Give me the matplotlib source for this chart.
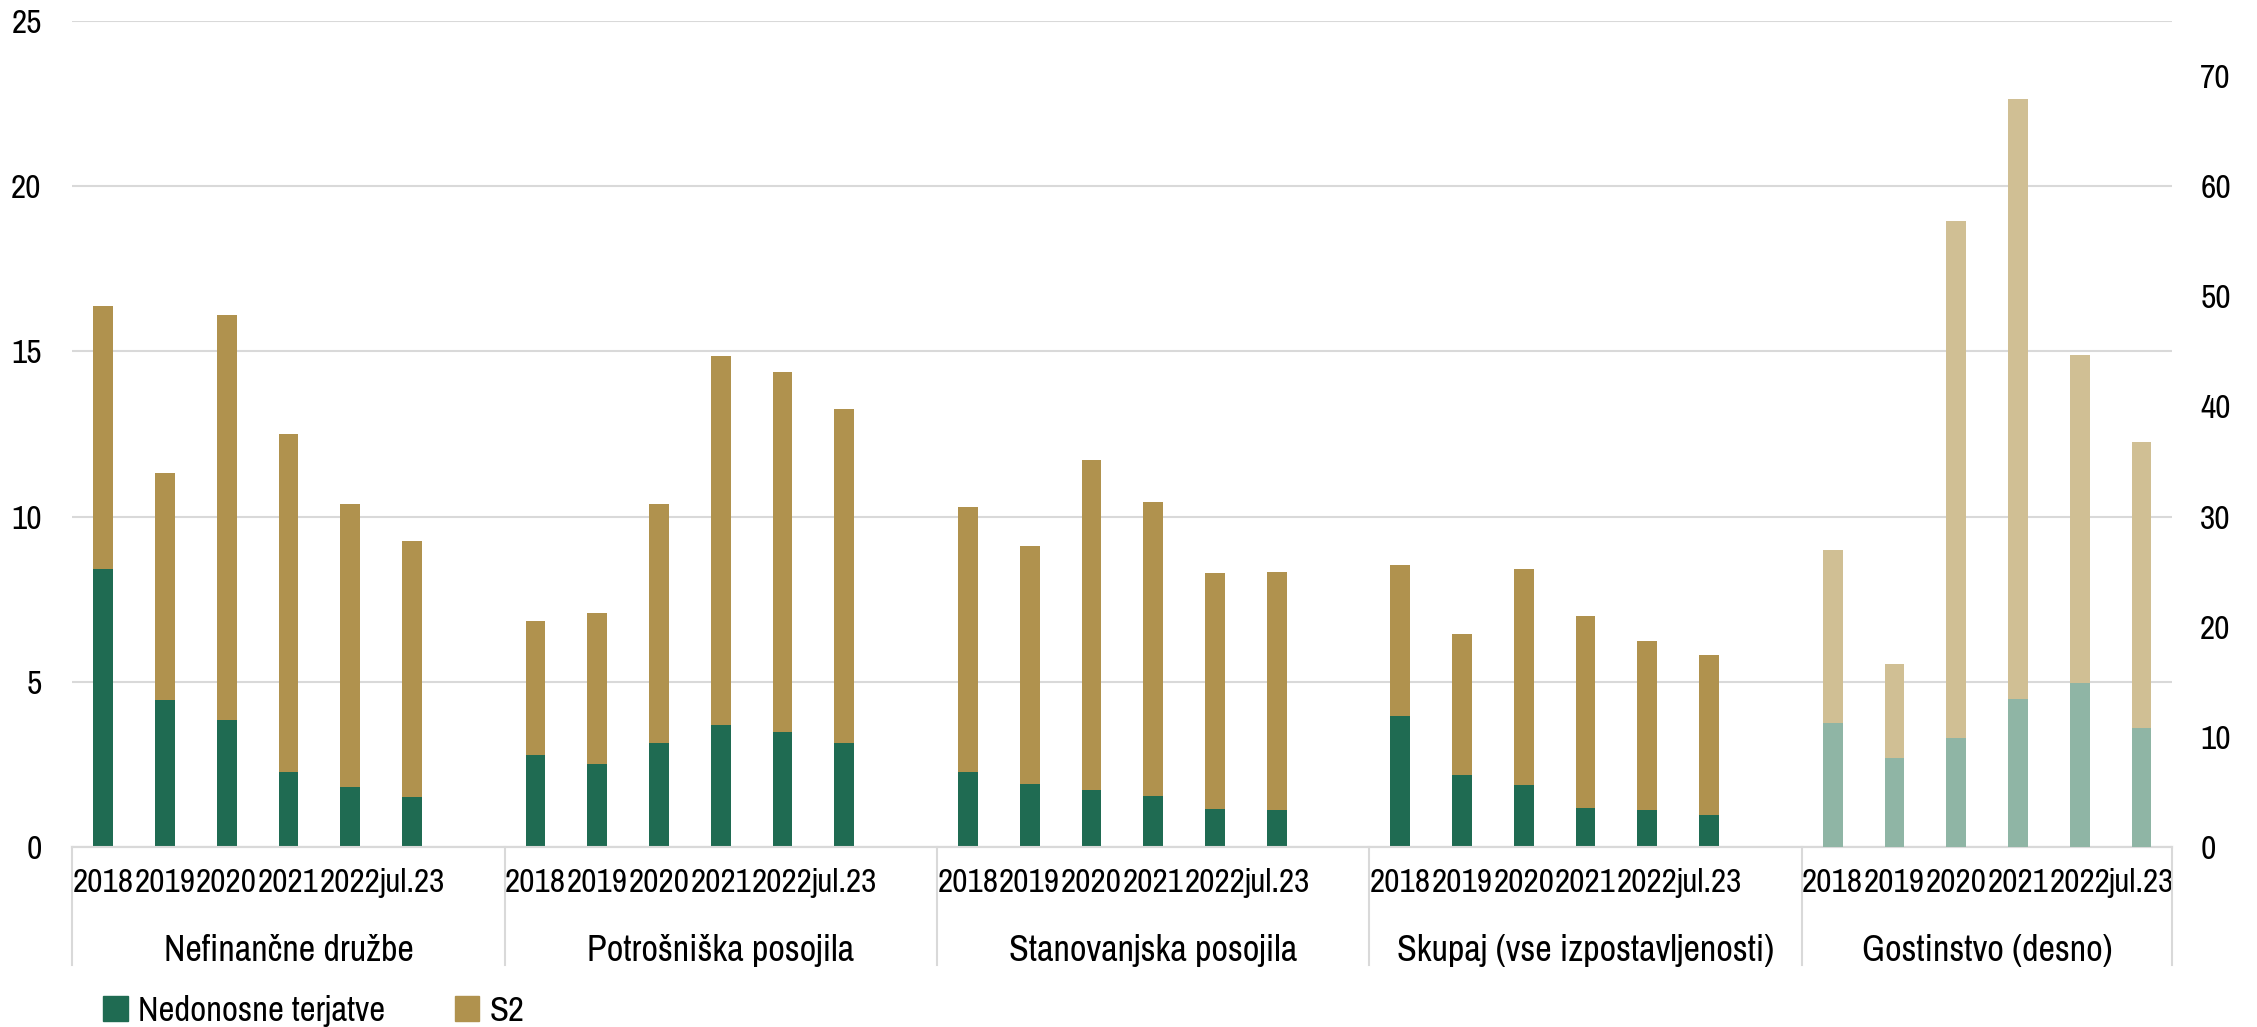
import matplotlib.pyplot as plt
import matplotlib.transforms as mtransforms
from matplotlib.patches import Patch

plt.rcParams['font.family'] = ['Archivo Narrow', 'Roboto Condensed', 'Liberation Sans', 'DejaVu Sans']

years = ['2018', '2019', '2020', '2021', '2022', 'jul.23']
groups = ['Nefinančne družbe', 'Potrošniška posojila', 'Stanovanjska posojila',
          'Skupaj (vse izpostavljenosti)', 'Gostinstvo (desno)']

# nedonosne terjatve (spodnji del) in skupna višina stolpca (NPL + S2)
npl = [
    [8.42, 4.45, 3.84, 2.28, 1.80, 1.52],
    [2.79, 2.50, 3.16, 3.68, 3.47, 3.16],
    [2.28, 1.92, 1.73, 1.55, 1.16, 1.11],
    [3.97, 2.19, 1.88, 1.19, 1.11, 0.97],
]
total = [
    [16.36, 11.33, 16.10, 12.50, 10.37, 9.26],
    [6.85, 7.08, 10.37, 14.86, 14.38, 13.26],
    [10.28, 9.11, 11.70, 10.45, 8.28, 8.31],
    [8.53, 6.45, 8.40, 6.98, 6.22, 5.80],
]
# gostinstvo - desna os
npl_gost = [11.3, 8.1, 9.9, 13.4, 14.9, 10.8]
total_gost = [27.0, 16.6, 56.8, 67.9, 44.7, 36.8]

c_npl = '#1f6b52'
c_s2 = '#b0924e'
c_npl_l = '#8fb5a5'
c_s2_l = '#d0bf94'

fs = 24
w = 0.32

fig = plt.figure(figsize=(22.57, 10.27), dpi=100)
ax = fig.add_axes([0.032, 0.1753, 0.9305, 0.8043])
ax2 = ax.twinx()

pos = []
labels = []
for g in range(5):
    x0 = g * 7
    xs = [x0 + i for i in range(6)]
    pos += xs
    labels += years
    if g < 4:
        s2 = [t - n for t, n in zip(total[g], npl[g])]
        ax.bar(xs, npl[g], w, color=c_npl, zorder=3)
        ax.bar(xs, s2, w, bottom=npl[g], color=c_s2, zorder=3)
    else:
        s2 = [t - n for t, n in zip(total_gost, npl_gost)]
        ax2.bar(xs, npl_gost, w, color=c_npl_l, zorder=3)
        ax2.bar(xs, s2, w, bottom=npl_gost, color=c_s2_l, zorder=3)

ax.set_xlim(-0.5, 33.5)
ax.set_ylim(0, 25)
ax2.set_ylim(0, 75)
ax.set_yticks(range(0, 26, 5))
ax2.set_yticks(range(0, 71, 10))
ax.set_xticks(pos)
ax.set_xticklabels(labels, fontsize=fs)
ax.tick_params(axis='x', length=0, pad=15)
ax.tick_params(axis='y', length=0, labelsize=fs, pad=22)
ax2.tick_params(axis='y', length=0, labelsize=fs, pad=20)

ax.yaxis.grid(True, color='#d9d9d9', linewidth=1.5, zorder=0)
ax.set_axisbelow(True)
for a in (ax, ax2):
    for s in ['top', 'left', 'right']:
        a.spines[s].set_visible(False)
    a.spines['bottom'].set_color('#d9d9d9')
    a.spines['bottom'].set_linewidth(1.5)

trans = mtransforms.blended_transform_factory(ax.transData, ax.transAxes)
bounds = [-0.5, 6.5, 13.5, 20.5, 27.5, 33.5]
for b in bounds:
    ax.plot([b, b], [0, -0.143], transform=trans, color='#d9d9d9',
            linewidth=1.5, clip_on=False)
for g in range(5):
    ax.text((bounds[g] + bounds[g + 1]) / 2, -0.125, groups[g], transform=trans,
            ha='center', va='center', fontsize=26)

handles = [Patch(color=c_npl, label='Nedonosne terjatve'), Patch(color=c_s2, label='S2')]
ax.legend(handles=handles, loc='center left', bbox_to_anchor=(0.0, -0.198), ncol=2,
          frameon=False, fontsize=25, handlelength=0.7, handleheight=0.7,
          handletextpad=0.3, columnspacing=2.0)

fig.savefig('out.png', dpi=100)
